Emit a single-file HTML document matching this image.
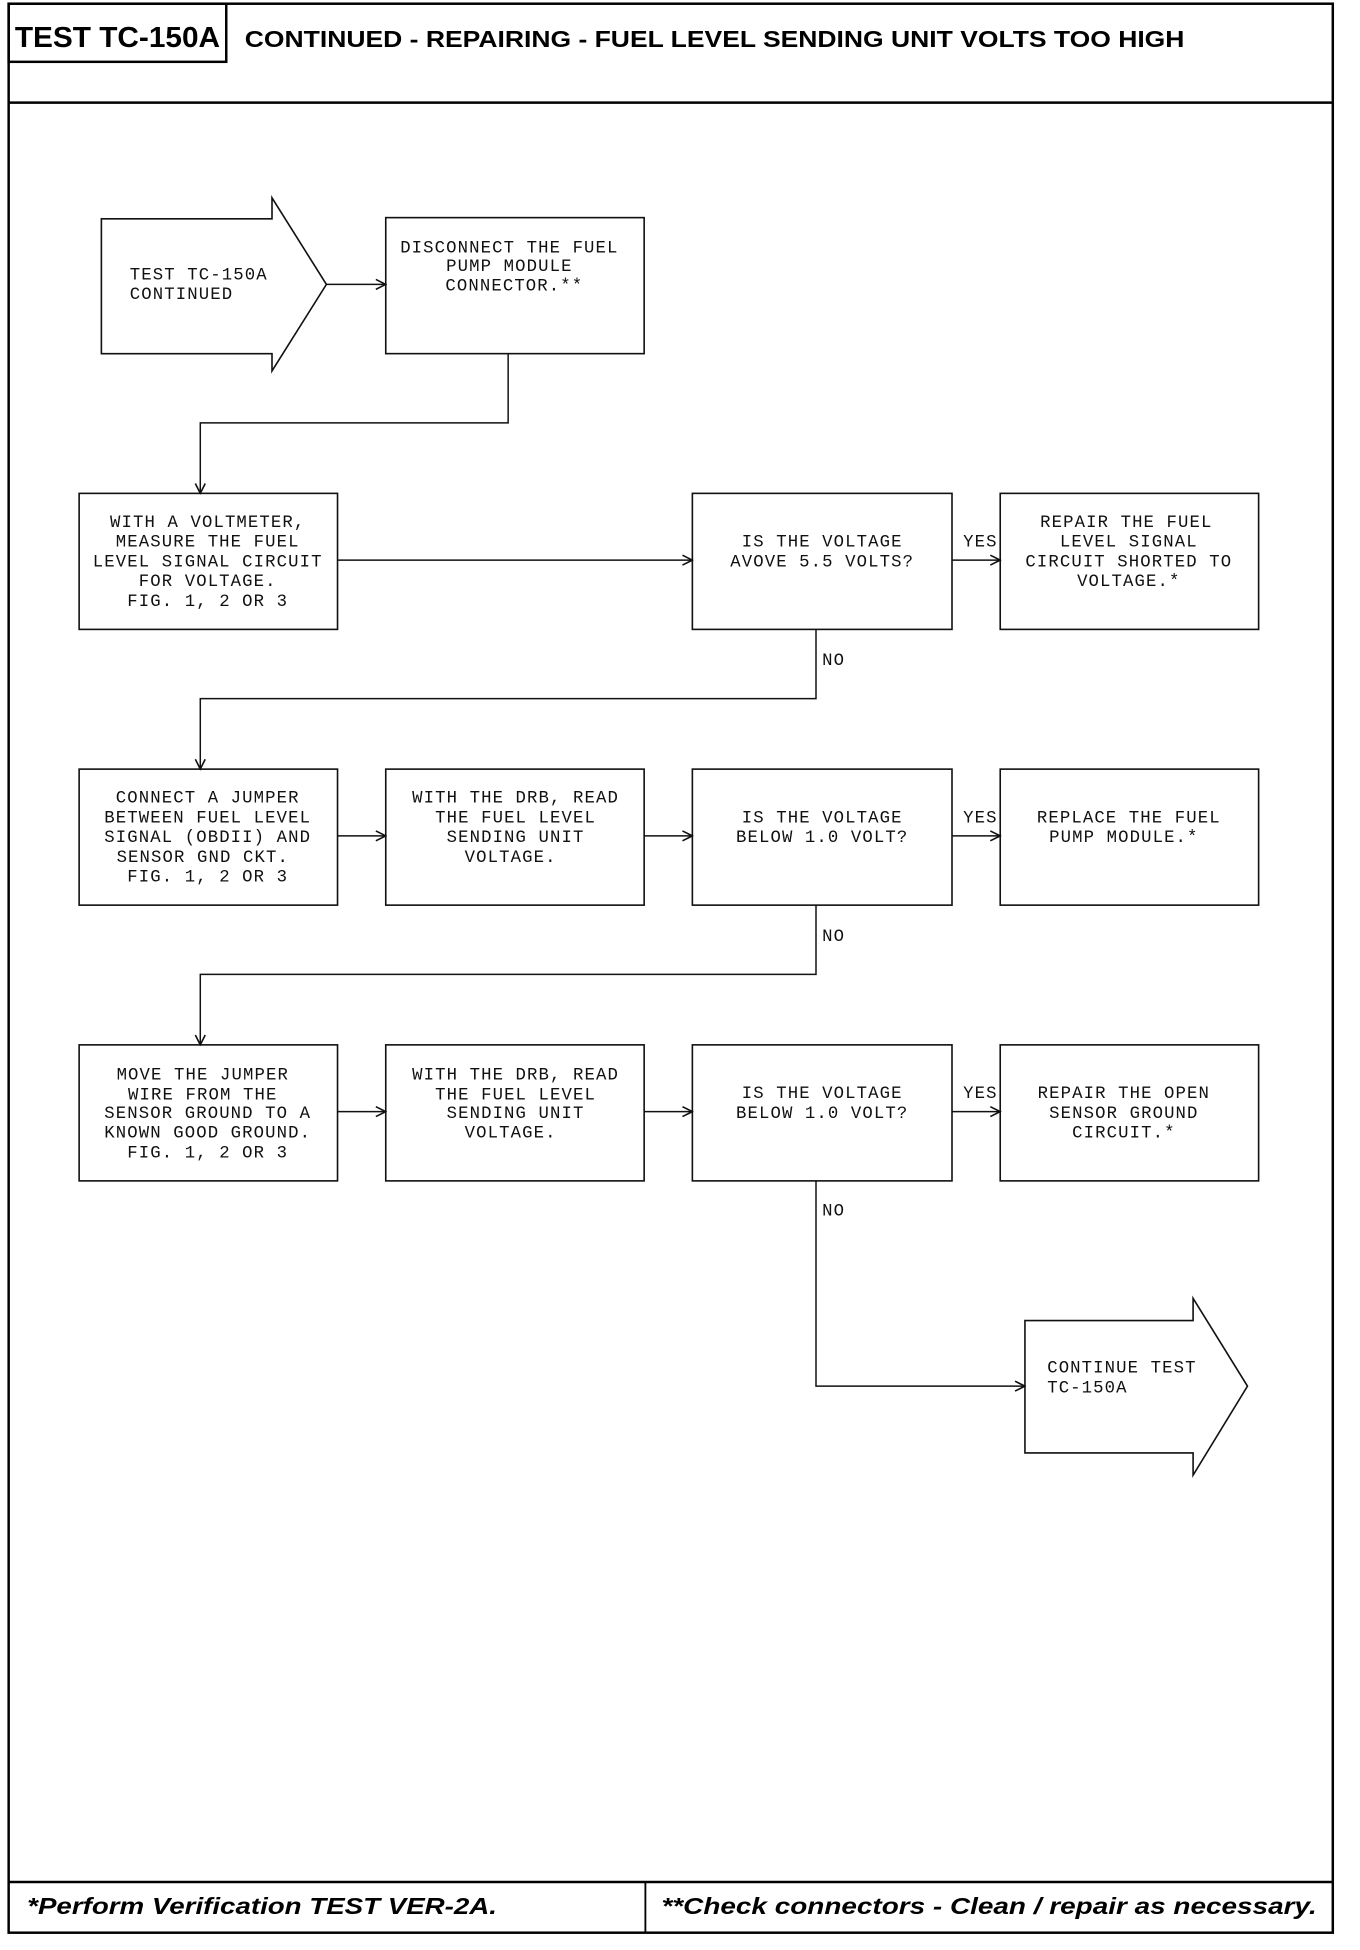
<!DOCTYPE html>
<html><head><meta charset="utf-8"><style>
html,body{margin:0;padding:0;background:#fff;}
svg{display:block;}
.t{font-family:"Liberation Mono",monospace;font-size:14px;letter-spacing:0.9px;fill:#111;}
.c{text-anchor:middle;}
.b{fill:none;stroke:#111;stroke-width:1.3;}
.l{fill:none;stroke:#111;stroke-width:1.2;}
.h{font-family:"Liberation Sans",Arial,sans-serif;font-weight:bold;fill:#000;}
</style></head><body>
<svg width="1360" height="1950" viewBox="0 0 1100 1577" preserveAspectRatio="none" xmlns="http://www.w3.org/2000/svg">
<defs><marker id="a" markerWidth="10" markerHeight="10" refX="9" refY="5" orient="auto" markerUnits="userSpaceOnUse"><path d="M1,1 L9,5 L1,9" fill="none" stroke="#111" stroke-width="1.3"/></marker></defs>
<!-- frame -->
<rect x="7" y="3" width="1071" height="1560" fill="none" stroke="#000" stroke-width="2"/>
<line x1="7" y1="83" x2="1078" y2="83" stroke="#000" stroke-width="2"/>
<rect x="7" y="3" width="176" height="47" fill="none" stroke="#000" stroke-width="2"/>
<text class="h" x="12" y="38" font-size="23" textLength="166" lengthAdjust="spacingAndGlyphs">TEST TC-150A</text>
<text class="h" x="198" y="38" font-size="19" textLength="760" lengthAdjust="spacingAndGlyphs">CONTINUED - REPAIRING - FUEL LEVEL SENDING UNIT VOLTS TOO HIGH</text>
<line x1="7" y1="1522" x2="1078" y2="1522" stroke="#000" stroke-width="2"/>
<line x1="522" y1="1522" x2="522" y2="1563" stroke="#000" stroke-width="1.5"/>
<text class="h" x="22" y="1548" font-size="19" font-style="italic" textLength="380" lengthAdjust="spacingAndGlyphs">*Perform Verification TEST VER-2A.</text>
<text class="h" x="535" y="1548" font-size="19" font-style="italic" textLength="530" lengthAdjust="spacingAndGlyphs">**Check connectors - Clean / repair as necessary.</text>

<!-- start arrow -->
<path class="b" d="M82,177 H220 V160 L264,230 L220,300 V286 H82 Z"/>
<text class="t" x="105" y="226">TEST TC-150A</text>
<text class="t" x="105" y="242">CONTINUED</text>
<line class="l" x1="264" y1="230" x2="312" y2="230" marker-end="url(#a)"/>
<rect class="b" x="312" y="176" width="209" height="110"/>
<text class="t c" x="412" y="204">DISCONNECT THE FUEL</text>
<text class="t c" x="412" y="219">PUMP MODULE</text>
<text class="t c" x="416" y="235">CONNECTOR.**</text>
<polyline class="l" points="411,286 411,342 162,342 162,399" marker-end="url(#a)"/>

<!-- row 2 -->
<rect class="b" x="64" y="399" width="209" height="110"/>
<text class="t c" x="168" y="426">WITH A VOLTMETER,</text>
<text class="t c" x="168" y="442">MEASURE THE FUEL</text>
<text class="t c" x="168" y="458">LEVEL SIGNAL CIRCUIT</text>
<text class="t c" x="168" y="474">FOR VOLTAGE.</text>
<text class="t c" x="168" y="490">FIG. 1, 2 OR 3</text>
<line class="l" x1="273" y1="453" x2="560" y2="453" marker-end="url(#a)"/>
<rect class="b" x="560" y="399" width="210" height="110"/>
<text class="t c" x="665" y="442">IS THE VOLTAGE</text>
<text class="t c" x="665" y="458">AVOVE 5.5 VOLTS?</text>
<text class="t" x="779" y="442">YES</text>
<line class="l" x1="770" y1="453" x2="809" y2="453" marker-end="url(#a)"/>
<rect class="b" x="809" y="399" width="209" height="110"/>
<text class="t c" x="911" y="426">REPAIR THE FUEL</text>
<text class="t c" x="913" y="442">LEVEL SIGNAL</text>
<text class="t c" x="913" y="458">CIRCUIT SHORTED TO</text>
<text class="t c" x="913" y="474">VOLTAGE.*</text>
<polyline class="l" points="660,509 660,565 162,565 162,622" marker-end="url(#a)"/>
<text class="t" x="665" y="538">NO</text>

<!-- row 3 -->
<rect class="b" x="64" y="622" width="209" height="110"/>
<text class="t c" x="168" y="649">CONNECT A JUMPER</text>
<text class="t c" x="168" y="665">BETWEEN FUEL LEVEL</text>
<text class="t c" x="168" y="681">SIGNAL (OBDII) AND</text>
<text class="t c" x="164" y="697">SENSOR GND CKT.</text>
<text class="t c" x="168" y="713">FIG. 1, 2 OR 3</text>
<line class="l" x1="273" y1="676" x2="312" y2="676" marker-end="url(#a)"/>
<rect class="b" x="312" y="622" width="209" height="110"/>
<text class="t c" x="417" y="649">WITH THE DRB, READ</text>
<text class="t c" x="417" y="665">THE FUEL LEVEL</text>
<text class="t c" x="417" y="681">SENDING UNIT</text>
<text class="t c" x="413" y="697">VOLTAGE.</text>
<line class="l" x1="521" y1="676" x2="560" y2="676" marker-end="url(#a)"/>
<rect class="b" x="560" y="622" width="210" height="110"/>
<text class="t c" x="665" y="665">IS THE VOLTAGE</text>
<text class="t c" x="665" y="681">BELOW 1.0 VOLT?</text>
<text class="t" x="779" y="665">YES</text>
<line class="l" x1="770" y1="676" x2="809" y2="676" marker-end="url(#a)"/>
<rect class="b" x="809" y="622" width="209" height="110"/>
<text class="t c" x="913" y="665">REPLACE THE FUEL</text>
<text class="t c" x="909" y="681">PUMP MODULE.*</text>
<polyline class="l" points="660,732 660,788 162,788 162,845" marker-end="url(#a)"/>
<text class="t" x="665" y="761">NO</text>

<!-- row 4 -->
<rect class="b" x="64" y="845" width="209" height="110"/>
<text class="t c" x="164" y="873">MOVE THE JUMPER</text>
<text class="t c" x="164" y="889">WIRE FROM THE</text>
<text class="t c" x="168" y="904">SENSOR GROUND TO A</text>
<text class="t c" x="168" y="920">KNOWN GOOD GROUND.</text>
<text class="t c" x="168" y="936">FIG. 1, 2 OR 3</text>
<line class="l" x1="273" y1="899" x2="312" y2="899" marker-end="url(#a)"/>
<rect class="b" x="312" y="845" width="209" height="110"/>
<text class="t c" x="417" y="873">WITH THE DRB, READ</text>
<text class="t c" x="417" y="889">THE FUEL LEVEL</text>
<text class="t c" x="417" y="904">SENDING UNIT</text>
<text class="t c" x="413" y="920">VOLTAGE.</text>
<line class="l" x1="521" y1="899" x2="560" y2="899" marker-end="url(#a)"/>
<rect class="b" x="560" y="845" width="210" height="110"/>
<text class="t c" x="665" y="888">IS THE VOLTAGE</text>
<text class="t c" x="665" y="904">BELOW 1.0 VOLT?</text>
<text class="t" x="779" y="888">YES</text>
<line class="l" x1="770" y1="899" x2="809" y2="899" marker-end="url(#a)"/>
<rect class="b" x="809" y="845" width="209" height="110"/>
<text class="t c" x="909" y="888">REPAIR THE OPEN</text>
<text class="t c" x="909" y="904">SENSOR GROUND</text>
<text class="t c" x="909" y="920">CIRCUIT.*</text>
<polyline class="l" points="660,955 660,1121 829,1121" marker-end="url(#a)"/>
<text class="t" x="665" y="983">NO</text>

<!-- end arrow -->
<path class="b" d="M829,1068 H965 V1050 L1009,1121 L965,1193 V1175 H829 Z"/>
<text class="t" x="847" y="1110">CONTINUE TEST</text>
<text class="t" x="847" y="1126">TC-150A</text>
</svg>
</body></html>
